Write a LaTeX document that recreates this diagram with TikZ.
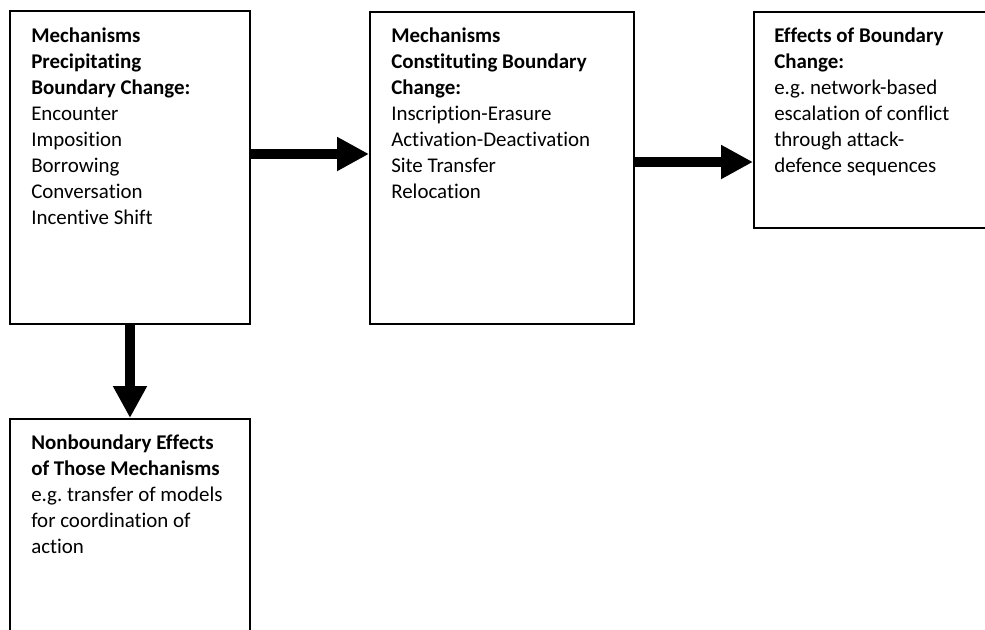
\documentclass[tikz,border=0pt]{standalone}
\usepackage{fontspec}
\setmainfont{Carlito}[Ligatures=NoCommon]
\usetikzlibrary{arrows.meta}
\frenchspacing
\begin{document}
\begin{tikzpicture}[x=0.75pt,y=-0.75pt,
  box/.style={draw=black,line width=1.4pt,anchor=north west,inner sep=0pt},
  txt/.style={anchor=north west,inner sep=0pt,align=left,
    font=\fontsize{15.7}{19.4}\selectfont},
  bigarrow/.style={line width=8.2pt,-{Triangle[length=24pt,width=24pt]}}]
  \useasboundingbox (0,0) rectangle (985,629);
  \clip (0,0) rectangle (985,629);
  % boxes
  \node[box,minimum width=180pt,minimum height=234.75pt] (pre) at (9,10) {};
  \node[box,minimum width=198pt,minimum height=234pt] (con) at (369,11) {};
  \node[box,minimum width=195pt,minimum height=162pt] (eff) at (753,11) {};
  \node[box,minimum width=180pt,minimum height=180pt] (non) at (9,418) {};
  % texts
  \node[txt] (tpre) at (31,28) {\textbf{Mechanisms}\\\textbf{Precipitating}\\\textbf{Boundary Change:}\\Encounter\\Imposition\\Borrowing\\Conversation\\Incentive Shift};
  \node[txt] (tcon) at (391,28) {\textbf{Mechanisms}\\\textbf{Constituting Boundary}\\\textbf{Change:}\\Inscription-Erasure\\Activation-Deactivation\\Site Transfer\\Relocation};
  \node[txt] (teff) at (774,28) {\textbf{Effects of Boundary}\\\textbf{Change:}\\e.g. network-based\\escalation of conflict\\through attack-\\defence sequences};
  \node[txt] (tnon) at (31,435) {\textbf{Nonboundary Effects}\\\textbf{of Those Mechanisms}\\e.g. transfer of models\\for coordination of\\action};
  % connectors
  \draw[bigarrow] (pre.east |- 0,154) -- (con.west |- 0,154);
  \draw[bigarrow] (con.east |- 0,162) -- (eff.west |- 0,162);
  \draw[bigarrow] (pre.south -| 130,0) -- (non.north -| 130,0);
\end{tikzpicture}
\end{document}
